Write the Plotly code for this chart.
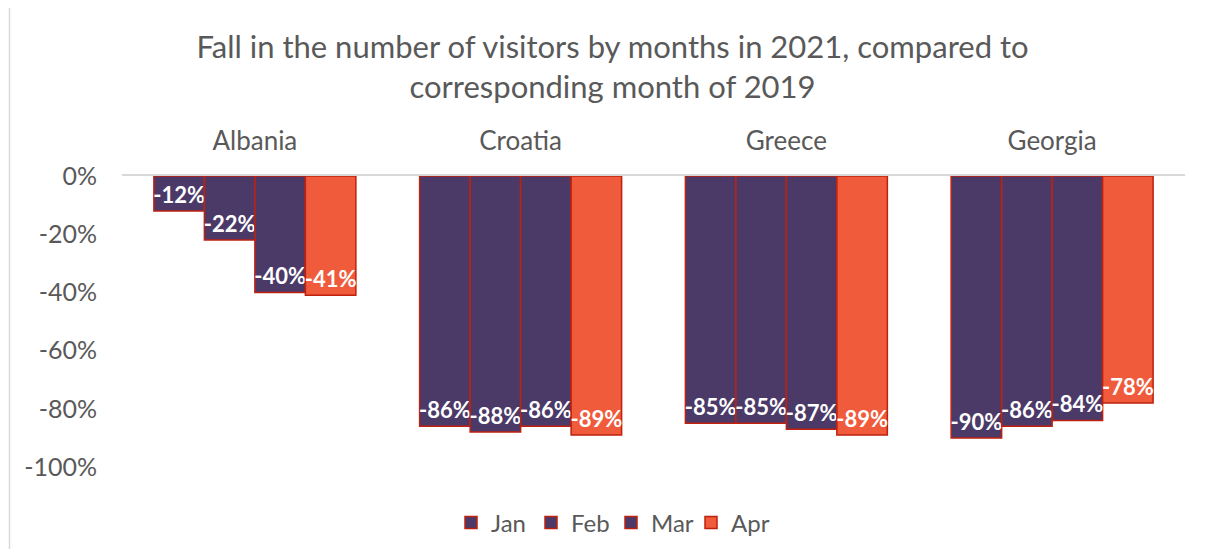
import plotly.graph_objects as go

countries = ["Albania", "Croatia", "Greece", "Georgia"]
months = ["Jan", "Feb", "Mar", "Apr"]
jan = [-12, -86, -85, -90]
feb = [-22, -88, -85, -86]
mar = [-40, -86, -87, -84]
apr = [-41, -89, -89, -78]
y_ticks = [0, -20, -40, -60, -80, -100]
y_ticktext = ["0%", "-20%", "-40%", "-60%", "-80%", "-100%"]

series = [jan, feb, mar, apr]
purple = "#4B3A68"
orange = "#EF5B3B"
border = "#C0200F"
colors = [purple, purple, purple, orange]
gray = "#595959"
FONT = "Lato"

OFF = 8  # page body margin
W, H = 1190, 541
L, R, T, B = 122 - OFF, 13, 176 - OFF, 82
pw, ph = W - L - R, H - T - B


def sx(px):
    """screen x -> paper x"""
    return (px - OFF - L) / pw


def sy(py):
    """screen y -> paper y"""
    return (H - B - (py - OFF)) / ph


fig = go.Figure()
for name, vals, col in zip(months, series, colors):
    fig.add_trace(go.Bar(
        name=name, x=countries, y=vals,
        marker=dict(color=col, line=dict(color=border, width=1.5)),
        text=[f"{v}%" for v in vals],
        textposition="inside", insidetextanchor="end",
        textangle=0,
        insidetextfont=dict(family=FONT, size=22, color="white", weight="bold"),
        cliponaxis=False,
    ))

fig.update_layout(
    width=W, height=H,
    margin=dict(l=L, r=R, t=T, b=B, pad=0, autoexpand=False),
    paper_bgcolor="white", plot_bgcolor="white",
    barmode="group", bargap=0.24, bargroupgap=0,
    uniformtext=dict(mode="show", minsize=22),
    font=dict(family=FONT, color=gray, size=24),
    title=dict(
        text="Fall in the number of visitors by months in 2021, compared to<br>corresponding month of 2019",
        x=sx(612.5), xanchor="center", xref="paper",
        y=1 - 50 / H, yanchor="top", yref="container",
        font=dict(family=FONT, size=31, color=gray),
    ),
    xaxis=dict(
        side="top", showgrid=False, showline=True, linecolor="#D9D9D9", linewidth=1.5,
        ticks="", ticklabelstandoff=14,
        tickfont=dict(family=FONT, size=26, color=gray),
    ),
    yaxis=dict(
        range=[-100, 0], tickvals=y_ticks, ticktext=y_ticktext,
        showgrid=False, zeroline=False, showline=False, ticks="",
        ticklabelstandoff=24,
        tickfont=dict(family=FONT, size=25, color=gray),
    ),
    legend=dict(
        orientation="h", x=sx(611), xanchor="center",
        y=sy(523), yanchor="middle",
        font=dict(family=FONT, size=24, color=gray),
        itemwidth=30, traceorder="normal",
        entrywidth=35, entrywidthmode="pixels",
    ),
    showlegend=True,
    shapes=[
        dict(type="line", xref="paper", yref="paper",
             x0=sx(9.5), x1=sx(9.5), y0=sy(560), y1=sy(6.5),
             line=dict(color="#D9D9D9", width=1.5), layer="below"),
        dict(type="line", xref="paper", yref="paper",
             x0=sx(9.5), x1=sx(1210), y0=sy(6.5), y1=sy(6.5),
             line=dict(color="#D9D9D9", width=1.5), layer="below"),
    ],
)

fig.write_html("out.html")
